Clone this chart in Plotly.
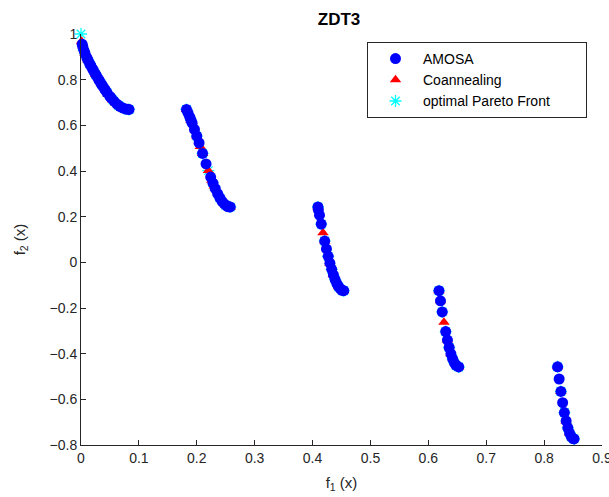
import plotly.graph_objects as go

# AMOSA solutions
amosa_f1 = [0.002, 0.003, 0.005, 0.007, 0.010, 0.012, 0.015, 0.017, 0.020, 0.022, 0.025, 0.027, 0.030,
            0.032, 0.035, 0.037, 0.040, 0.042, 0.045, 0.050, 0.052, 0.057, 0.062, 0.067, 0.072, 0.077, 0.081, 0.083,
            0.1822, 0.185, 0.188, 0.190, 0.192, 0.196, 0.200, 0.204, 0.210, 0.216, 0.224, 0.228, 0.232,
            0.236, 0.240, 0.244, 0.248, 0.252, 0.255, 0.2578,
            0.4093, 0.410, 0.412, 0.415, 0.421, 0.424, 0.427, 0.430, 0.433, 0.436, 0.439, 0.442, 0.445,
            0.448, 0.451, 0.4539,
            0.6184, 0.621, 0.624, 0.630, 0.633, 0.636, 0.639, 0.642, 0.645, 0.648, 0.6525,
            0.8233, 0.826, 0.829, 0.832, 0.835, 0.838, 0.841, 0.844, 0.847, 0.850, 0.8518]
amosa_f2 = [0.9552, 0.9449, 0.9285, 0.9148, 0.8969, 0.8861, 0.8707, 0.8609, 0.8468, 0.8377, 0.8242, 0.8154, 0.8025,
            0.7941, 0.7817, 0.7736, 0.7620, 0.7544, 0.7434, 0.7264, 0.7201, 0.7057, 0.6933, 0.6835, 0.6762, 0.6716, 0.6700, 0.6697,
            0.6698, 0.6539, 0.6356, 0.6228, 0.6095, 0.5819, 0.5528, 0.5227, 0.4768, 0.4311, 0.3734, 0.3468, 0.3224,
            0.3007, 0.2818, 0.2663, 0.2545, 0.2465, 0.2431, 0.2426,
            0.2423, 0.2300, 0.2065, 0.1674, 0.0932, 0.0586, 0.0262, -0.0036, -0.0307, -0.0548, -0.0757, -0.0929, -0.1066,
            -0.1164, -0.1224, -0.1242,
            -0.1242, -0.1686, -0.2170, -0.3034, -0.3404, -0.3730, -0.4006, -0.4230, -0.4402, -0.4517, -0.4583,
            -0.4578, -0.5109, -0.5656, -0.6146, -0.6578, -0.6946, -0.7247, -0.7478, -0.7636, -0.7720, -0.7733]

# Coannealing solutions
coan_f1 = [0.001, 0.007, 0.012, 0.025, 0.035, 0.047, 0.055, 0.060, 0.065, 0.075, 0.080,
           0.1822, 0.190, 0.200, 0.206, 0.210, 0.220, 0.226, 0.230, 0.250, 0.2578,
           0.4093, 0.418, 0.421, 0.430, 0.436, 0.445, 0.4539,
           0.6184, 0.621, 0.627, 0.633, 0.639, 0.6525,
           0.8233, 0.829, 0.838, 0.844, 0.850]
coan_f2 = [0.9684, 0.9148, 0.8861, 0.8242, 0.7817, 0.7364, 0.7112, 0.6980, 0.6871, 0.6731, 0.6702,
           0.6698, 0.6228, 0.5528, 0.5075, 0.4768, 0.4017, 0.3600, 0.3343, 0.2500, 0.2426,
           0.2423, 0.1295, 0.0932, -0.0036, -0.0548, -0.1066, -0.1242,
           -0.1242, -0.1686, -0.2621, -0.3404, -0.4006, -0.4583,
           -0.4578, -0.5656, -0.6946, -0.7478, -0.7720]

# optimal Pareto front
pareto_f1 = [0.000, 0.005, 0.015, 0.025, 0.035, 0.045, 0.055, 0.065, 0.075, 0.083,
             0.1822, 0.190, 0.200, 0.210, 0.220, 0.230, 0.240, 0.250, 0.2578,
             0.4093, 0.415, 0.421, 0.427, 0.433, 0.439, 0.445, 0.451, 0.4539,
             0.6184, 0.624, 0.630, 0.636, 0.642, 0.648, 0.6525,
             0.8233, 0.829, 0.835, 0.841, 0.847, 0.8518]
pareto_f2 = [1.0000, 0.9285, 0.8707, 0.8242, 0.7817, 0.7434, 0.7112, 0.6871, 0.6731, 0.6697,
             0.6698, 0.6228, 0.5528, 0.4768, 0.4017, 0.3343, 0.2818, 0.2500, 0.2426,
             0.2423, 0.1674, 0.0932, 0.0262, -0.0307, -0.0757, -0.1066, -0.1224, -0.1242,
             -0.1242, -0.2170, -0.3034, -0.3730, -0.4230, -0.4517, -0.4583,
             -0.4578, -0.5656, -0.6578, -0.7247, -0.7636, -0.7733]

series_names = ["AMOSA", "Coannealing", "optimal Pareto Front"]

FONT = "Liberation Sans, Arial, Helvetica, sans-serif"
PAD = "\u00a0" * 8

fig = go.Figure()
fig.add_trace(go.Scatter(x=pareto_f1, y=pareto_f2, mode="markers", name=series_names[2] + PAD,
                         legendrank=3, cliponaxis=False,
                         marker=dict(symbol="asterisk-open", size=10, color="#00FFFF",
                                     line=dict(color="#00FFFF", width=1.3))))
fig.add_trace(go.Scatter(x=coan_f1, y=coan_f2, mode="markers", name=series_names[1],
                         legendrank=2, cliponaxis=False,
                         marker=dict(symbol="triangle-up", size=10, color="#FF0000")))
fig.add_trace(go.Scatter(x=amosa_f1, y=amosa_f2, mode="markers", name=series_names[0],
                         legendrank=1, cliponaxis=False,
                         marker=dict(symbol="circle", size=11, color="#0000FF")))

axis_common = dict(showline=True, linecolor="#262626", linewidth=1, ticks="inside", ticklen=5,
                   tickcolor="#262626", showgrid=False, zeroline=False, mirror=False,
                   ticklabeloverflow="allow", automargin=False,
                   tickfont=dict(family=FONT, size=14, color="#262626"))

fig.update_layout(
    width=609, height=497,
    margin=dict(l=81, r=7, t=34, b=52),
    plot_bgcolor="white", paper_bgcolor="white",
    title=dict(text="<b>ZDT3</b>", x=339 / 609, xanchor="center", y=1 - 19.5 / 497, yanchor="middle",
               font=dict(family=FONT, size=17, color="black")),
    xaxis=dict(range=[0, 0.9], dtick=0.1, tick0=0,
               title=dict(text="f<sub>1</sub> (x)", font=dict(family=FONT, size=15, color="#262626"), standoff=12),
               **axis_common),
    yaxis=dict(range=[-0.8, 1.0], dtick=0.2, tick0=0,
               title=dict(text="f<sub>2</sub> (x)", font=dict(family=FONT, size=15, color="#262626"), standoff=20),
               **axis_common),
    legend=dict(x=(367 - 81) / 521, xanchor="left", y=1 - 8 / 411, yanchor="top",
                bgcolor="white", bordercolor="#262626", borderwidth=1,
                font=dict(family=FONT, size=14, color="black"), itemwidth=45,
                tracegroupgap=0),
    showlegend=True,
)

fig.write_html("out.html")
